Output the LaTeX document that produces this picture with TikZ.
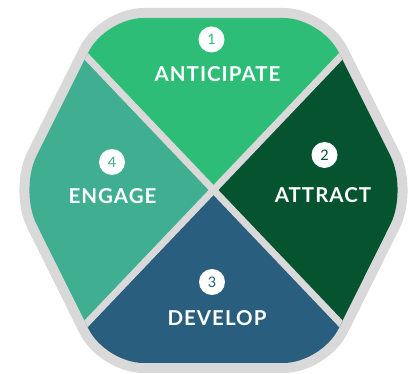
\documentclass[tikz,border=0pt]{standalone}
\usepackage{fontspec}
\setmainfont{Lato}
\newfontfamily\labfont[LetterSpace=5.0]{Lato Bold}
\definecolor{cAnt}{HTML}{2DBD76}
\definecolor{cAtt}{HTML}{05532F}
\definecolor{cDev}{HTML}{2A5E7E}
\definecolor{cEng}{HTML}{40AE91}
\definecolor{cGrey}{HTML}{D9D9D9}
\tikzset{
  lab/.style={text=white, font=\labfont\fontsize{20.5}{21}\selectfont, inner sep=0pt, anchor=center},
  numc/.style={circle, fill=white, minimum size=26pt, inner sep=0pt, font=\fontsize{14.5}{16}\selectfont},
}
\begin{document}
\begin{tikzpicture}[x=1pt,y=-1pt]
\clip (0,0) rectangle (408,374);
\fill[white] (0,0) rectangle (408,374);
\def\hexpath{(105.5,18) -- (321.5,18) -- (407.5,190) -- (321.5,363) -- (105.5,363) -- (19.5,190) -- cycle}
\draw[cGrey, fill=cGrey, line width=20pt, line join=round, rounded corners=38pt] \hexpath;
\coordinate (O) at (213.5,190);
\begin{scope}
  \clip[rounded corners=38pt] \hexpath;
  \fill[cAnt] (O) -- ++(-200,-210) -- ++(400,0) -- cycle;
  \fill[cAtt] (O) -- ++(200,-210) -- ++(0,420) -- cycle;
  \fill[cDev] (O) -- ++(200,210) -- ++(-400,0) -- cycle;
  \fill[cEng] (O) -- ++(-200,210) -- ++(0,-420) -- cycle;
  \draw[cGrey, line width=7pt] (O) ++(-200,-210) -- ++(400,420);
  \draw[cGrey, line width=7pt] (O) ++(200,-210) -- ++(-400,420);
\end{scope}
\node[numc, text=cAnt] (n1) at (211.5,39.5) {1};
\node[lab] (l1) at (217.5,74) {ANTICIPATE};
\node[numc, text=cAtt] (n2) at (324.5,155) {2};
\node[lab] (l2) at (323,195) {ATTRACT};
\node[numc, text=cDev] (n3) at (212,282) {3};
\node[lab] (l3) at (217,318) {DEVELOP};
\node[numc, text=cEng] (n4) at (112,162) {4};
\node[lab] (l4) at (112.5,196) {ENGAGE};
\end{tikzpicture}
\end{document}
